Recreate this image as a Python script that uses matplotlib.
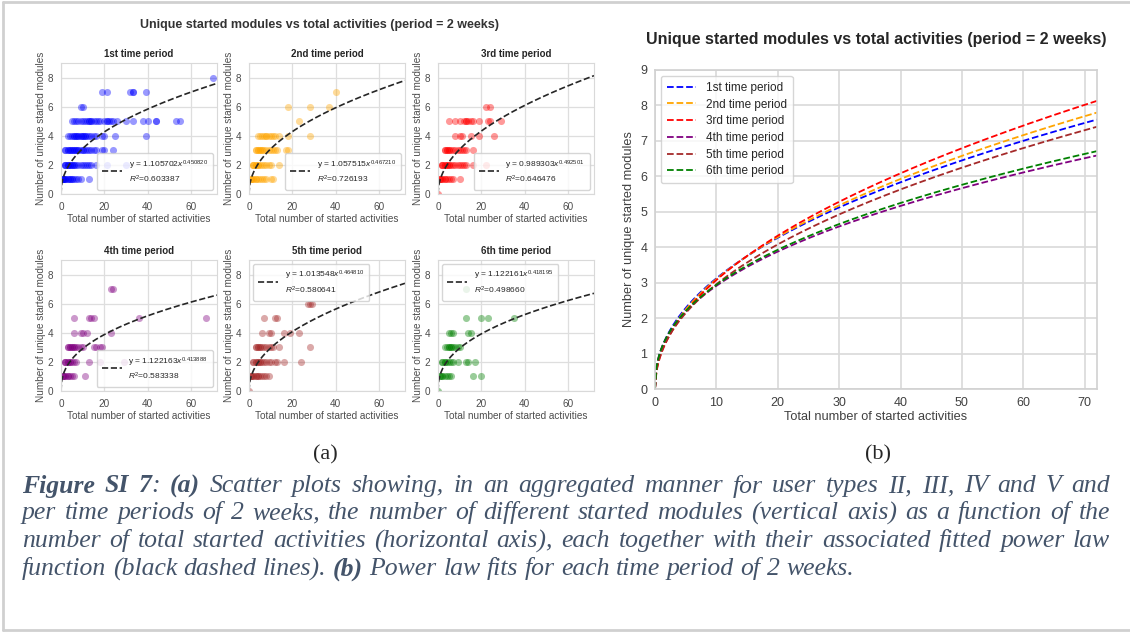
import numpy as np
import matplotlib
matplotlib.use('Agg')
import matplotlib.pyplot as plt
import seaborn as sns
from matplotlib.lines import Line2D

sns.set_style('whitegrid')
plt.rcParams['font.family'] = ['Liberation Sans', 'DejaVu Sans']
plt.rcParams['mathtext.fontset'] = 'custom'
plt.rcParams['mathtext.rm'] = 'Liberation Sans'
plt.rcParams['mathtext.it'] = 'Liberation Sans:italic'

# fit parameters per time period (y = a * x^b)
periods = ['1st time period', '2nd time period', '3rd time period',
           '4th time period', '5th time period', '6th time period']
colors = ['blue', 'orange', 'red', 'purple', 'brown', 'green']
coef_a = [1.105702, 1.057515, 0.989303, 1.122163, 1.013548, 1.122161]
coef_b = [0.450820, 0.467210, 0.492501, 0.413888, 0.464810, 0.418195]
r2 = [0.603387, 0.726193, 0.646476, 0.583338, 0.580641, 0.498660]

# scatter points: unique modules -> list of total activities
pts1 = {8: [70], 7: [19, 21, 32, 33, 33, 39], 6: [9, 10],
        5: [5, 6, 7, 8, 9, 10, 11, 12, 13, 13, 14, 14, 15, 16, 17, 18, 20, 21, 21, 22, 23, 24, 26, 30, 33, 38, 40, 44, 44, 53, 55],
        4: [3, 4, 5, 6, 6, 7, 7, 8, 8, 9, 9, 10, 10, 11, 11, 12, 13, 14, 15, 16, 19, 20, 25, 39],
        3: [2, 2, 3, 3, 4, 4, 5, 5, 6, 6, 7, 7, 8, 8, 9, 10, 10, 11, 12, 13, 14, 15, 16, 19, 20, 24],
        2: [2, 2, 2, 3, 3, 3, 4, 4, 5, 5, 6, 6, 7, 8, 9, 10, 11, 12, 13, 14, 16, 21, 30],
        1: [1, 1, 1, 1, 2, 2, 2, 3, 3, 4, 4, 5, 5, 6, 7, 8, 9, 13]}
pts2 = {7: [40], 6: [18, 28, 37], 5: [23],
        4: [4, 5, 6, 7, 8, 8, 9, 10, 11, 12, 14, 18, 28],
        3: [3, 3, 4, 4, 5, 5, 6, 6, 7, 8, 9, 10, 11, 12, 13, 17, 18],
        2: [2, 2, 2, 3, 3, 4, 4, 5, 6, 7, 8, 9, 10, 14],
        1: [1, 1, 1, 2, 2, 3, 3, 4, 5, 6, 7, 8, 10, 11]}
pts3 = {6: [22, 24], 5: [5, 8, 10, 12, 13, 13, 14, 15, 16, 19, 23, 24, 29],
        4: [8, 10, 11, 15, 19, 26],
        3: [3, 3, 4, 4, 5, 5, 6, 7, 8, 9, 10, 11, 12, 13, 16],
        2: [2, 2, 2, 3, 3, 4, 4, 5, 5, 6, 7, 8, 9, 10, 11, 12, 13, 16, 22],
        1: [1, 1, 1, 2, 2, 3, 3, 4, 5, 6, 7, 10], 0: [0]}
pts4 = {7: [23, 24], 5: [6, 13, 14, 15, 36, 67], 4: [6, 9, 10, 12, 23],
        3: [3, 3, 4, 4, 5, 5, 6, 6, 7, 8, 9, 10, 15, 16, 18, 19],
        2: [2, 2, 2, 3, 3, 4, 4, 5, 6, 7, 13, 18, 29],
        1: [1, 1, 1, 2, 2, 3, 3, 4, 5, 6, 11]}
pts5 = {6: [27, 28, 29], 5: [7, 12, 13], 4: [6, 9, 10, 16, 19, 23],
        3: [3, 3, 4, 4, 5, 5, 6, 7, 8, 9, 10, 11, 14, 28],
        2: [2, 2, 3, 3, 4, 4, 5, 5, 6, 7, 8, 9, 10, 12, 13, 16, 24],
        1: [1, 1, 1, 2, 2, 3, 3, 4, 4, 5, 6, 7, 8, 9], 0: [0]}
pts6 = {7: [13], 5: [13, 20, 23, 35], 4: [5, 6, 7, 14, 15],
        3: [3, 4, 5, 5, 6, 6, 7, 8, 9, 10],
        2: [2, 2, 3, 3, 4, 5, 6, 7, 9, 13, 14, 17],
        1: [1, 1, 2, 2, 3, 4, 5, 6, 16, 20], 0: [0]}
all_pts = [pts1, pts2, pts3, pts4, pts5, pts6]
legend_locs = ['lower right'] * 4 + ['upper left'] * 2

caption = [
    "**Figure** **SI** **7**: **(a)** Scatter plots showing, in an aggregated manner for user types II, III, IV and V and",
    "per time periods of 2 weeks, the number of different started modules (vertical axis) as a function of the",
    "number of total started activities (horizontal axis), each together with their associated fitted power law",
    "function (black dashed lines). **(b)** Power law fits for each time period of 2 weeks.",
]

W, H = 1130, 633
fig = plt.figure(figsize=(W / 100, H / 100), dpi=100)


def box(l, t, r, b):
    return [l / W, 1 - b / H, (r - l) / W, (b - t) / H]


xx = np.linspace(0, 72, 300)
lefts = [61, 249, 438]
tops = [63, 260]
for i in range(6):
    l = lefts[i % 3]
    t = tops[i // 3]
    ax = fig.add_axes(box(l, t, l + 156, t + 131))
    xs, ys = [], []
    for lvl, vals in all_pts[i].items():
        xs += vals
        ys += [lvl] * len(vals)
    ax.scatter(xs, ys, color=colors[i], alpha=0.4, s=26, lw=0)
    lab = f'y = {coef_a[i]:.6f}$x^{{{coef_b[i]:.6f}}}$\n$R^2$={r2[i]:.6f}'
    ax.plot(xx, coef_a[i] * xx ** coef_b[i], '--', color='.15', lw=1.2, label=lab)
    ax.set_xlim(0, 72)
    ax.set_ylim(0, 9)
    ax.set_xticks([0, 20, 40, 60])
    ax.set_yticks([0, 2, 4, 6, 8])
    ax.tick_params(labelsize=7.2, pad=2, colors='.3')
    ax.grid(color='.87', lw=0.9)
    for s in ax.spines.values():
        s.set_color('.85')
    ax.set_title(periods[i], fontsize=7, fontweight='bold', pad=4, color='.15')
    ax.set_xlabel('Total number of started activities', fontsize=7.2, labelpad=1.5, color='.3')
    ax.set_ylabel('Number of unique started modules', fontsize=7.2, labelpad=1.5, color='.3')
    ax.legend(loc=legend_locs[i], fontsize=6, handlelength=2.4, borderpad=0.6,
              labelspacing=0.35, frameon=True)

fig.text(319 / W, 1 - 25 / H, 'Unique started modules vs total activities (period = 2 weeks)',
         ha='center', va='center', fontsize=9, fontweight='bold', color='.2')

# (b) power law fits together
axb = fig.add_axes(box(655, 70, 1097, 389))
for i in range(6):
    axb.plot(xx, coef_a[i] * xx ** coef_b[i], '--', color=colors[i], lw=1.3, label=periods[i])
axb.set_xlim(0, 72)
axb.set_ylim(0, 9)
axb.set_xticks(range(0, 71, 10))
axb.set_yticks(range(0, 10))
axb.tick_params(labelsize=9, pad=2, colors='.25')
axb.grid(color='.85', lw=1.2)
for s in axb.spines.values():
    s.set_color('.82')
    s.set_linewidth(1.2)
axb.set_title('Unique started modules vs total activities (period = 2 weeks)',
              fontsize=11.5, fontweight='bold', pad=19, color='.15')
axb.set_xlabel('Total number of started activities', fontsize=9.2, labelpad=2, color='.25')
axb.set_ylabel('Number of unique started modules', fontsize=9.2, labelpad=4, color='.25')
axb.legend(loc='upper left', fontsize=8.5, handlelength=2.5, labelspacing=0.4, borderpad=0.5)

# sub-figure labels
fig.text(325 / W, 1 - 455 / H, '(a)', ha='center', va='center', fontsize=16,
         family='Liberation Serif')
fig.text(878 / W, 1 - 455 / H, '(b)', ha='center', va='center', fontsize=16,
         family='Liberation Serif')

# caption, first three lines justified
renderer = fig.canvas.get_renderer()
cap_color = '#44546A'
x_start, x_end = 22, 1110
line_y = [486, 513, 541, 569]


def word_width(segs, size):
    w = 0
    for txt, bold in segs:
        t = fig.text(0, 0, txt, fontsize=size, family='Liberation Serif', style='italic',
                     fontweight='bold' if bold else 'normal')
        w += t.get_window_extent(renderer).width
        t.remove()
    return w


fs = 18.5
for k, line in enumerate(caption):
    words = []
    for w in line.split(' '):
        parts = w.split('**')
        words.append([(p, j % 2 == 1) for j, p in enumerate(parts) if p])
    widths = [word_width(ws, fs) for ws in words]
    space = word_width([(' ', False)], fs)
    if k < 3:
        gap = max((x_end - x_start - sum(widths)) / (len(words) - 1), space * 0.4)
    else:
        gap = space
    x = x_start
    for ws, wd in zip(words, widths):
        xp = x
        for txt, bold in ws:
            t = fig.text(xp / W, 1 - line_y[k] / H, txt, fontsize=fs, family='Liberation Serif',
                         style='italic', fontweight='bold' if bold else 'normal',
                         color=cap_color, va='center', ha='left')
            xp += t.get_window_extent(renderer).width
        x += wd + gap

# frame around the figure
fig.add_artist(Line2D([3 / W, 1], [1 - 1.5 / H, 1 - 1.5 / H], color='#d0d0d0', lw=2))
fig.add_artist(Line2D([3 / W, 3 / W], [1 - 1.5 / H, 1 - 630 / H], color='#d0d0d0', lw=2))
fig.add_artist(Line2D([3 / W, 1], [1 - 630 / H, 1 - 630 / H], color='#d0d0d0', lw=2))

fig.savefig('out.png', dpi=100)
